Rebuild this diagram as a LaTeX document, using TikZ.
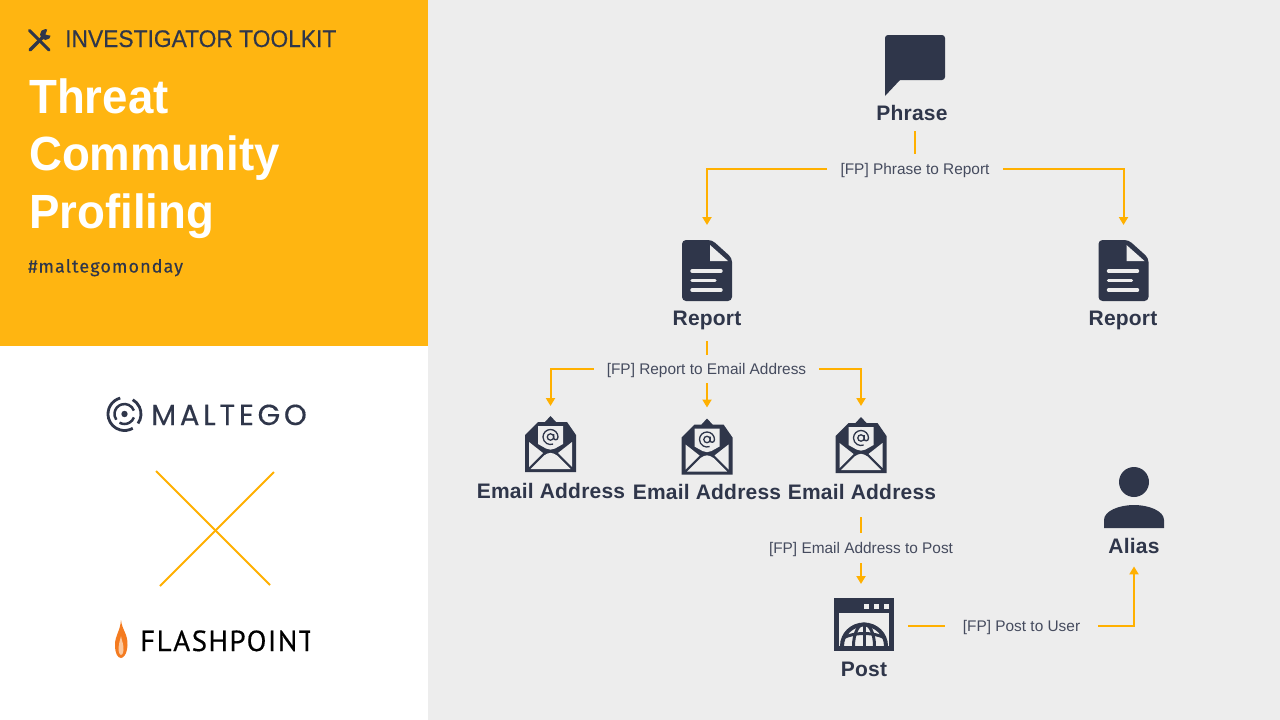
\documentclass[tikz,border=0pt]{standalone}
\usepackage{fontspec}
\setmainfont{Liberation Sans}
\newfontfamily\kickerfont[FakeBold=0.4,FakeStretch=0.95]{Liberation Sans}
\newfontfamily\titlefont[FakeStretch=0.95]{Liberation Sans}
\newfontfamily\tagfont[LetterSpace=6,FakeBold=0.25]{Fira Sans}
\newfontfamily\maltegofont[LetterSpace=13,FakeBold=0.35]{Poppins}
\newfontfamily\flashfont[LetterSpace=5,FakeBold=0.4]{PT Sans}
\newfontfamily\entityfont[LetterSpace=1]{Liberation Sans}
\usetikzlibrary{arrows.meta}
\definecolor{panelyellow}{HTML}{FFB511}
\definecolor{panelgrey}{HTML}{EDEDED}
\definecolor{inkdark}{HTML}{2F364A}
\definecolor{edgeamber}{HTML}{FFB000}
\definecolor{edgetext}{HTML}{454B5E}
\definecolor{flameorange}{HTML}{F47B20}
\definecolor{flamelight}{HTML}{FBC9A0}

\tikzset{
    iconbox/.style={inner sep=0pt, outer sep=0pt}, % Placeholder node around an icon
    entity/.style={anchor=base, text=inkdark, inner sep=0pt, font=\entityfont\bfseries\fontsize{21}{24}\selectfont},
    fplabel/.style={text=edgetext, inner sep=0pt, text height=12pt, text depth=2pt, font=\fontsize{15.4}{20}\selectfont},
    edge/.style={draw=edgeamber, line width=2pt, -{Triangle[length=8pt,width=9pt]}},
    edgeplain/.style={draw=edgeamber, line width=2pt},
    reporticon/.pic={
        \fill[inkdark, rounded corners=4pt] (0,0) -- (30,0) -- (50,18) -- (50,61) -- (0,61) -- cycle;
        \fill[panelgrey] (28,5) -- (28,21) -- (46,21) -- cycle;
        \draw[panelgrey, line width=3.4pt, line cap=round] (10,31) -- (39,31) (10,40.5) -- (33,40.5) (10,50) -- (39,50);
    },
    emailicon/.pic={
        \fill[inkdark] (0,56) -- (0,19) -- (13,6) -- (20,6) -- (25.5,0) -- (31,6) -- (42,6) -- (51,19) -- (51,56) -- cycle;
        \fill[panelgrey] (13,10) -- (38,10) -- (38,28) -- (30,32.5) .. controls (27,34) and (24,34) .. (21,32.5) -- (13,28) -- cycle;
        \fill[panelgrey] (4,26) -- (18,37) -- (4,51) -- cycle;
        \fill[panelgrey] (47,26) -- (33,37) -- (47,51) -- cycle;
        \fill[panelgrey] (5.5,53) -- (19,39.5) .. controls (24,36) and (27,36) .. (32,39.5) -- (45.5,53) -- cycle;
        \draw[inkdark, line width=1.3pt] (25.5,21) circle (3.2pt);
        \draw[inkdark, line width=1.3pt] (28.7,18) -- (28.7,22) .. controls (28.7,24.5) and (33,24.5) .. (33,21)
            arc[start angle=0, end angle=290, radius=7.5pt];
    },
    posticon/.pic={
        \fill[inkdark] (0,0) rectangle (60,53);
        \fill[panelgrey] (5,15) rectangle (55,48);
        \foreach \sqx in {30,40,50} {\fill[panelgrey] (\sqx,6) rectangle +(5,5);}
        \begin{scope}
            \clip (5,15) rectangle (55,48);
            \draw[inkdark, line width=4pt] (30,48) ellipse (22pt and 21.5pt);
            \draw[inkdark, line width=3pt] (30,48) ellipse (10.5pt and 22pt);
            \draw[inkdark, line width=3pt] (30,25) -- (30,48);
            \draw[inkdark, line width=3pt] (9,40) .. controls (20,34) and (40,34) .. (51,40);
        \end{scope}
    },
    aliasicon/.pic={
        \fill[inkdark] (30,15) circle (15pt);
        \fill[inkdark] (0,61) -- (0,53) .. controls (0,44) and (15,38) .. (30,38) .. controls (45,38) and (60,44) .. (60,53) -- (60,61) -- cycle;
    },
    phraseicon/.pic={
        \fill[inkdark, rounded corners=3pt] (0,30) -- (0,0) -- (60,0) -- (60,45) -- (15,45) -- (0,45) -- cycle;
        \fill[inkdark] (0,40) -- (0,61) -- (15,45) -- (15,40) -- cycle;
    },
}

\begin{document}
\begin{tikzpicture}[x=1pt, y=-1pt]
    \useasboundingbox (0,0) rectangle (1280,720);

    % --- Panels ---
    \fill[panelgrey] (428,0) rectangle (1280,720);
    \fill[white] (0,346) rectangle (428,720);
    \fill[panelyellow] (0,0) rectangle (428,346);

    % --- Header of the yellow panel ---
    \draw[inkdark, line width=3pt, line cap=round] (29.5,30.5) -- (49,50);
    \draw[inkdark, line width=3.4pt, line cap=round] (30,50) -- (44,36);
    \fill[inkdark] (45.5,34.5) circle (5.5pt);
    \fill[panelyellow] (45.5,34.5) -- (48,28) -- (53,30) -- (52,36) -- cycle;
    \node[anchor=base west, inner sep=0pt, text=inkdark] (kicker) at (65,47)
        {\kickerfont\fontsize{24}{28}\selectfont INVESTIGATOR TOOLKIT};
    \foreach \titleline/\ybase/\titlename in {Threat/113/titleA, Community/170.5/titleB, Profiling/228/titleC} {
        \node[anchor=base west, inner sep=0pt, text=white, font=\titlefont\bfseries\fontsize{48}{52}\selectfont] (\titlename) at (29,\ybase) {\titleline};
    }
    \node[anchor=base west, inner sep=0pt, text=inkdark] (hashtag) at (28,272.5)
        {\tagfont\fontsize{18}{20}\selectfont \#maltegomonday};

    % --- Logos of the white panel ---
    \draw[inkdark, line width=2.8pt] (124.5,414) ++(105:16.5pt) arc[start angle=105, end angle=300, radius=16.5pt];
    \draw[inkdark, line width=2.8pt] (124.5,414) ++(-35:16.5pt) arc[start angle=-35, end angle=60, radius=16.5pt];
    \draw[inkdark, line width=2.5pt] (124.5,414) ++(20:10pt) arc[start angle=20, end angle=215, radius=10pt];
    \draw[inkdark, line width=2.5pt] (124.5,414) ++(240:10pt) arc[start angle=240, end angle=340, radius=10pt];
    \fill[inkdark] (124.5,414) circle (3.2pt);
    \node[anchor=base west, inner sep=0pt, text=inkdark] (maltego) at (151,425)
        {\maltegofont\fontsize{29}{32}\selectfont MALTEGO};
    \draw[edgeplain] (156,471) -- (270,585);
    \draw[edgeplain] (274,472) -- (160,586);
    \fill[flameorange] (121,620) .. controls (122,630) and (128,634) .. (127.5,645) .. controls (127,655) and (123,658) .. (121,658)
        .. controls (118,658) and (115,654) .. (115,645) .. controls (115,635) and (120,632) .. (121,620) -- cycle;
    \fill[flamelight] (121,636) .. controls (122,642) and (124,645) .. (123.5,650) .. controls (123,654) and (122,655) .. (121,655)
        .. controls (120,655) and (118.5,653) .. (118.5,648) .. controls (118.5,644) and (120,641) .. (121,636) -- cycle;
    \begin{scope}
        \clip (130,620) rectangle (310,660);
        \node[anchor=base west, inner sep=0pt, text=black] (flashpoint) at (140,651)
            {\flashfont\fontsize{29}{32}\selectfont FLASHPOINT};
    \end{scope}

    % --- Icons, one placeholder node each ---
    \node[iconbox, minimum width=60pt, minimum height=61pt] (iconPhrase) at (915,65.5) {};
    \node[iconbox, minimum width=50pt, minimum height=61pt] (iconRepA) at (707,270.5) {};
    \node[iconbox, minimum width=50pt, minimum height=61pt] (iconRepB) at (1123.5,270.5) {};
    \node[iconbox, minimum width=51pt, minimum height=56pt] (iconMailA) at (550.5,444) {};
    \node[iconbox, minimum width=51pt, minimum height=56pt] (iconMailB) at (707,446.5) {};
    \node[iconbox, minimum width=51pt, minimum height=56pt] (iconMailC) at (861,445) {};
    \node[iconbox, minimum width=60pt, minimum height=53pt] (iconPost) at (864,624.5) {};
    \node[iconbox, minimum width=60pt, minimum height=61pt] (iconAlias) at (1134,497.5) {};
    \pic at (iconPhrase.north west) {phraseicon};
    \foreach \repnode in {iconRepA, iconRepB} {\pic at (\repnode.north west) {reporticon};}
    \foreach \mailnode in {iconMailA, iconMailB, iconMailC} {\pic at (\mailnode.north west) {emailicon};}
    \pic at (iconPost.north west) {posticon};
    \pic at (iconAlias.north west) {aliasicon};

    % --- Entity labels ---
    \node[entity] (txtPhrase) at (912,120) {Phrase};
    \node[entity] (txtRepA) at (707,325) {Report};
    \node[entity] (txtRepB) at (1123,325) {Report};
    \node[entity] (txtMailA) at (551,498) {Email Address};
    \node[entity] (txtMailB) at (707,499) {Email Address};
    \node[entity] (txtMailC) at (862,499) {Email Address};
    \node[entity] (txtPost) at (864,676) {Post};
    \node[entity] (txtAlias) at (1134,553) {Alias};

    % --- Transform labels, the node borders are where the lines stop ---
    \node[fplabel, minimum width=176pt, minimum height=30pt] (fpPhrase) at (915,169) {[FP] Phrase to Report};
    \node[fplabel, minimum width=225pt, minimum height=28pt] (fpReport) at (706.5,369) {[FP] Report to Email Address};
    \node[fplabel, minimum width=190pt, minimum height=30pt] (fpMail) at (861,548) {[FP] Email Address to Post};
    \node[fplabel, minimum width=153pt, minimum height=30pt] (fpPost) at (1021.5,626) {[FP] Post to User};

    % --- Connectors ---
    \draw[edgeplain, shorten <=35pt] (iconPhrase.south) -- (fpPhrase.north);
    \draw[edge, shorten >=15pt] (fpPhrase.west) -| (iconRepA.north);
    \draw[edge, shorten >=15pt] (fpPhrase.east) -| (iconRepB.north);
    \draw[edgeplain, shorten <=40pt] (iconRepA.south) -- (fpReport.north -| iconRepA.south);
    \draw[edge, shorten >=10pt] (fpReport.west) -| (iconMailA.north);
    \draw[edge, shorten >=11pt] (fpReport.south -| iconMailB.north) -- (iconMailB.north);
    \draw[edge, shorten >=11pt] (fpReport.east) -| (iconMailC.north);
    \draw[edgeplain, shorten <=44pt] (iconMailC.south) -- (fpMail.north);
    \draw[edge, shorten >=14pt] (fpMail.south) -- (fpMail.south |- iconPost.north);
    \draw[edgeplain, shorten <=14pt] (iconPost.east |- fpPost.west) -- (fpPost.west);
    \draw[edge, shorten >=13pt] (fpPost.east) -| (txtAlias.south);
\end{tikzpicture}
\end{document}
